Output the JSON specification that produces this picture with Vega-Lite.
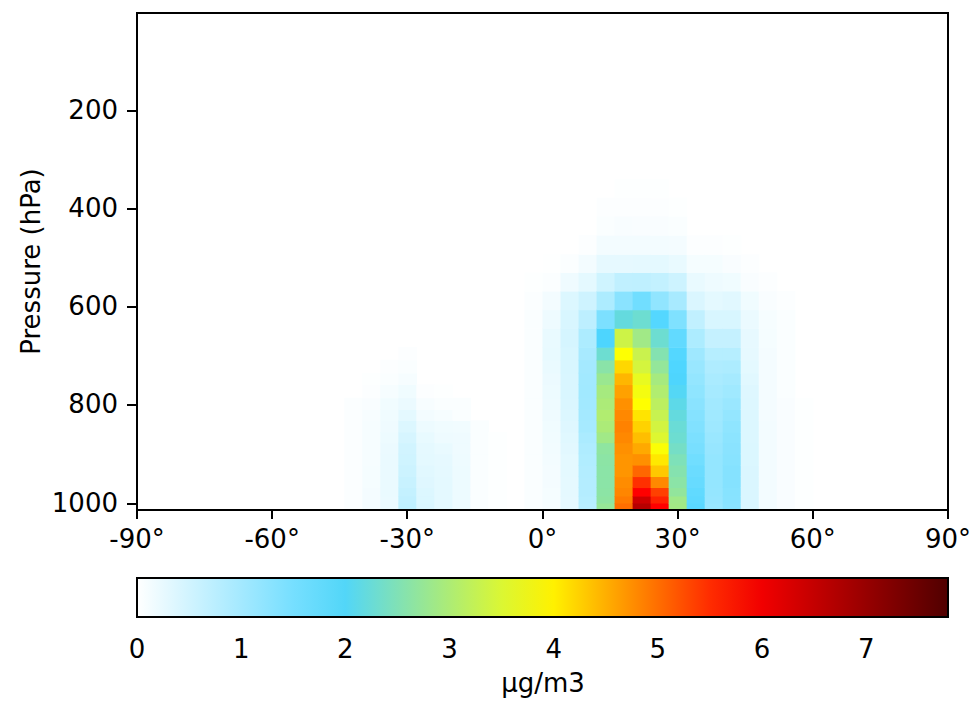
{
  "$schema": "https://vega.github.io/schema/vega-lite/v6.json",
  "width": 811,
  "height": 497,
  "autosize": {"type": "none"},
  "padding": {"left": 137, "top": 13, "right": 25, "bottom": 193},
  "background": "white",
  "config": {
    "font": "DejaVu Sans",
    "view": {"stroke": "black", "strokeWidth": 2},
    "axis": {"labelFontSize": 26, "titleFontSize": 26, "titleFontWeight": "normal", "labelColor": "black", "titleColor": "black", "tickColor": "black", "tickWidth": 2, "grid": false, "domain": true, "domainColor": "black", "domainWidth": 2, "translate": 0}
  },
  "datasets": {
    "levels": [
      {"lev":0,"p_top":999.8,"p_bot":1013},{"lev":1,"p_top":985.6,"p_bot":999.8},{"lev":2,"p_top":968.3,"p_bot":985.6},{"lev":3,"p_top":945.9,"p_bot":968.3},{"lev":4,"p_top":922.5,"p_bot":945.9},{"lev":5,"p_top":899.2,"p_bot":922.5},{"lev":6,"p_top":876.8,"p_bot":899.2},{"lev":7,"p_top":855,"p_bot":876.8},{"lev":8,"p_top":831.5,"p_bot":855},{"lev":9,"p_top":809.1,"p_bot":831.5},{"lev":10,"p_top":785.4,"p_bot":809.1},{"lev":11,"p_top":758.3,"p_bot":785.4},{"lev":12,"p_top":734.6,"p_bot":758.3},{"lev":13,"p_top":708.1,"p_bot":734.6},{"lev":14,"p_top":682.3,"p_bot":708.1},{"lev":15,"p_top":643.7,"p_bot":682.3},{"lev":16,"p_top":605.9,"p_bot":643.7},{"lev":17,"p_top":567.9,"p_bot":605.9},{"lev":18,"p_top":529.9,"p_bot":567.9},{"lev":19,"p_top":493,"p_bot":529.9},{"lev":20,"p_top":454,"p_bot":493},{"lev":21,"p_top":414.8,"p_bot":454},{"lev":22,"p_top":377.4,"p_bot":414.8},{"lev":23,"p_top":340,"p_bot":377.4}
    ],
    "lats": [
      {"lat":-42,"lat_s":-44,"lat_n":-40},{"lat":-38,"lat_s":-40,"lat_n":-36},{"lat":-34,"lat_s":-36,"lat_n":-32},{"lat":-30,"lat_s":-32,"lat_n":-28},{"lat":-26,"lat_s":-28,"lat_n":-24},{"lat":-22,"lat_s":-24,"lat_n":-20},{"lat":-18,"lat_s":-20,"lat_n":-16},{"lat":-14,"lat_s":-16,"lat_n":-12},{"lat":-10,"lat_s":-12,"lat_n":-8},{"lat":-2,"lat_s":-4,"lat_n":0},{"lat":2,"lat_s":0,"lat_n":4},{"lat":6,"lat_s":4,"lat_n":8},{"lat":10,"lat_s":8,"lat_n":12},{"lat":14,"lat_s":12,"lat_n":16},{"lat":18,"lat_s":16,"lat_n":20},{"lat":22,"lat_s":20,"lat_n":24},{"lat":26,"lat_s":24,"lat_n":28},{"lat":30,"lat_s":28,"lat_n":32},{"lat":34,"lat_s":32,"lat_n":36},{"lat":38,"lat_s":36,"lat_n":40},{"lat":42,"lat_s":40,"lat_n":44},{"lat":46,"lat_s":44,"lat_n":48},{"lat":50,"lat_s":48,"lat_n":52},{"lat":54,"lat_s":52,"lat_n":56},{"lat":58,"lat_s":56,"lat_n":60}
    ],
    "conc": [
      {"lat":-42,"lev":0,"c":0.04},{"lat":-42,"lev":1,"c":0.04},{"lat":-42,"lev":2,"c":0.04},{"lat":-42,"lev":3,"c":0.04},{"lat":-42,"lev":4,"c":0.04},{"lat":-42,"lev":5,"c":0.04},{"lat":-42,"lev":6,"c":0.04},{"lat":-42,"lev":7,"c":0.04},{"lat":-42,"lev":8,"c":0.04},{"lat":-42,"lev":9,"c":0.04},{"lat":-42,"lev":10,"c":0.04},
      {"lat":-38,"lev":0,"c":0.12},{"lat":-38,"lev":1,"c":0.12},{"lat":-38,"lev":2,"c":0.12},{"lat":-38,"lev":3,"c":0.11},{"lat":-38,"lev":4,"c":0.11},{"lat":-38,"lev":5,"c":0.1},{"lat":-38,"lev":6,"c":0.1},{"lat":-38,"lev":7,"c":0.1},{"lat":-38,"lev":8,"c":0.1},{"lat":-38,"lev":9,"c":0.09},{"lat":-38,"lev":10,"c":0.07},{"lat":-38,"lev":11,"c":0.03},{"lat":-38,"lev":12,"c":0.02},
      {"lat":-34,"lev":0,"c":0.22},{"lat":-34,"lev":1,"c":0.22},{"lat":-34,"lev":2,"c":0.23},{"lat":-34,"lev":3,"c":0.23},{"lat":-34,"lev":4,"c":0.23},{"lat":-34,"lev":5,"c":0.23},{"lat":-34,"lev":6,"c":0.22},{"lat":-34,"lev":7,"c":0.2},{"lat":-34,"lev":8,"c":0.17},{"lat":-34,"lev":9,"c":0.16},{"lat":-34,"lev":10,"c":0.15},{"lat":-34,"lev":11,"c":0.1},{"lat":-34,"lev":12,"c":0.05},{"lat":-34,"lev":13,"c":0.03},
      {"lat":-30,"lev":0,"c":0.7},{"lat":-30,"lev":1,"c":0.68},{"lat":-30,"lev":2,"c":0.65},{"lat":-30,"lev":3,"c":0.6},{"lat":-30,"lev":4,"c":0.56},{"lat":-30,"lev":5,"c":0.53},{"lat":-30,"lev":6,"c":0.5},{"lat":-30,"lev":7,"c":0.45},{"lat":-30,"lev":8,"c":0.38},{"lat":-30,"lev":9,"c":0.3},{"lat":-30,"lev":10,"c":0.22},{"lat":-30,"lev":11,"c":0.16},{"lat":-30,"lev":12,"c":0.1},{"lat":-30,"lev":13,"c":0.06},{"lat":-30,"lev":14,"c":0.03},
      {"lat":-26,"lev":0,"c":0.4},{"lat":-26,"lev":1,"c":0.39},{"lat":-26,"lev":2,"c":0.38},{"lat":-26,"lev":3,"c":0.35},{"lat":-26,"lev":4,"c":0.33},{"lat":-26,"lev":5,"c":0.3},{"lat":-26,"lev":6,"c":0.28},{"lat":-26,"lev":7,"c":0.25},{"lat":-26,"lev":8,"c":0.2},{"lat":-26,"lev":9,"c":0.13},{"lat":-26,"lev":10,"c":0.09},{"lat":-26,"lev":11,"c":0.03},
      {"lat":-22,"lev":0,"c":0.3},{"lat":-22,"lev":1,"c":0.3},{"lat":-22,"lev":2,"c":0.3},{"lat":-22,"lev":3,"c":0.29},{"lat":-22,"lev":4,"c":0.28},{"lat":-22,"lev":5,"c":0.27},{"lat":-22,"lev":6,"c":0.24},{"lat":-22,"lev":7,"c":0.19},{"lat":-22,"lev":8,"c":0.16},{"lat":-22,"lev":9,"c":0.1},{"lat":-22,"lev":10,"c":0.06},{"lat":-22,"lev":11,"c":0.02},
      {"lat":-18,"lev":0,"c":0.2},{"lat":-18,"lev":1,"c":0.2},{"lat":-18,"lev":2,"c":0.2},{"lat":-18,"lev":3,"c":0.2},{"lat":-18,"lev":4,"c":0.2},{"lat":-18,"lev":5,"c":0.19},{"lat":-18,"lev":6,"c":0.18},{"lat":-18,"lev":7,"c":0.17},{"lat":-18,"lev":8,"c":0.15},{"lat":-18,"lev":9,"c":0.06},{"lat":-18,"lev":10,"c":0.05},
      {"lat":-14,"lev":0,"c":0.06},{"lat":-14,"lev":1,"c":0.06},{"lat":-14,"lev":2,"c":0.06},{"lat":-14,"lev":3,"c":0.06},{"lat":-14,"lev":4,"c":0.06},{"lat":-14,"lev":5,"c":0.06},{"lat":-14,"lev":6,"c":0.06},{"lat":-14,"lev":7,"c":0.06},{"lat":-14,"lev":8,"c":0.06},
      {"lat":-10,"lev":0,"c":0.02},{"lat":-10,"lev":1,"c":0.02},{"lat":-10,"lev":2,"c":0.02},{"lat":-10,"lev":3,"c":0.02},{"lat":-10,"lev":4,"c":0.02},{"lat":-10,"lev":5,"c":0.02},{"lat":-10,"lev":6,"c":0.02},{"lat":-10,"lev":7,"c":0.02},
      {"lat":-2,"lev":0,"c":0.05},{"lat":-2,"lev":1,"c":0.05},{"lat":-2,"lev":2,"c":0.05},{"lat":-2,"lev":3,"c":0.05},{"lat":-2,"lev":4,"c":0.05},{"lat":-2,"lev":5,"c":0.05},{"lat":-2,"lev":6,"c":0.05},{"lat":-2,"lev":7,"c":0.05},{"lat":-2,"lev":8,"c":0.05},{"lat":-2,"lev":9,"c":0.05},{"lat":-2,"lev":10,"c":0.05},{"lat":-2,"lev":11,"c":0.05},{"lat":-2,"lev":12,"c":0.05},{"lat":-2,"lev":13,"c":0.05},{"lat":-2,"lev":14,"c":0.05},{"lat":-2,"lev":15,"c":0.05},{"lat":-2,"lev":16,"c":0.05},{"lat":-2,"lev":17,"c":0.04},{"lat":-2,"lev":18,"c":0.02},
      {"lat":2,"lev":0,"c":0.1},{"lat":2,"lev":1,"c":0.11},{"lat":2,"lev":2,"c":0.11},{"lat":2,"lev":3,"c":0.12},{"lat":2,"lev":4,"c":0.12},{"lat":2,"lev":5,"c":0.13},{"lat":2,"lev":6,"c":0.14},{"lat":2,"lev":7,"c":0.15},{"lat":2,"lev":8,"c":0.16},{"lat":2,"lev":9,"c":0.17},{"lat":2,"lev":10,"c":0.19},{"lat":2,"lev":11,"c":0.2},{"lat":2,"lev":12,"c":0.21},{"lat":2,"lev":13,"c":0.23},{"lat":2,"lev":14,"c":0.25},{"lat":2,"lev":15,"c":0.24},{"lat":2,"lev":16,"c":0.19},{"lat":2,"lev":17,"c":0.13},{"lat":2,"lev":18,"c":0.04},{"lat":2,"lev":19,"c":0.01},
      {"lat":6,"lev":0,"c":0.27},{"lat":6,"lev":1,"c":0.27},{"lat":6,"lev":2,"c":0.28},{"lat":6,"lev":3,"c":0.28},{"lat":6,"lev":4,"c":0.29},{"lat":6,"lev":5,"c":0.3},{"lat":6,"lev":6,"c":0.32},{"lat":6,"lev":7,"c":0.34},{"lat":6,"lev":8,"c":0.36},{"lat":6,"lev":9,"c":0.38},{"lat":6,"lev":10,"c":0.4},{"lat":6,"lev":11,"c":0.41},{"lat":6,"lev":12,"c":0.42},{"lat":6,"lev":13,"c":0.43},{"lat":6,"lev":14,"c":0.44},{"lat":6,"lev":15,"c":0.46},{"lat":6,"lev":16,"c":0.43},{"lat":6,"lev":17,"c":0.38},{"lat":6,"lev":18,"c":0.17},{"lat":6,"lev":19,"c":0.04},
      {"lat":10,"lev":0,"c":0.78},{"lat":10,"lev":1,"c":0.8},{"lat":10,"lev":2,"c":0.82},{"lat":10,"lev":3,"c":0.82},{"lat":10,"lev":4,"c":0.83},{"lat":10,"lev":5,"c":0.85},{"lat":10,"lev":6,"c":0.88},{"lat":10,"lev":7,"c":0.92},{"lat":10,"lev":8,"c":0.97},{"lat":10,"lev":9,"c":1.0},{"lat":10,"lev":10,"c":1.02},{"lat":10,"lev":11,"c":1.03},{"lat":10,"lev":12,"c":1.02},{"lat":10,"lev":13,"c":1.0},{"lat":10,"lev":14,"c":0.95},{"lat":10,"lev":15,"c":0.9},{"lat":10,"lev":16,"c":0.72},{"lat":10,"lev":17,"c":0.54},{"lat":10,"lev":18,"c":0.3},{"lat":10,"lev":19,"c":0.13},{"lat":10,"lev":20,"c":0.03},
      {"lat":14,"lev":0,"c":2.74},{"lat":14,"lev":1,"c":2.66},{"lat":14,"lev":2,"c":2.63},{"lat":14,"lev":3,"c":2.62},{"lat":14,"lev":4,"c":2.62},{"lat":14,"lev":5,"c":2.63},{"lat":14,"lev":6,"c":2.67},{"lat":14,"lev":7,"c":2.86},{"lat":14,"lev":8,"c":2.98},{"lat":14,"lev":9,"c":3.04},{"lat":14,"lev":10,"c":2.98},{"lat":14,"lev":11,"c":2.92},{"lat":14,"lev":12,"c":2.79},{"lat":14,"lev":13,"c":2.61},{"lat":14,"lev":14,"c":2.3},{"lat":14,"lev":15,"c":1.95},{"lat":14,"lev":16,"c":1.43},{"lat":14,"lev":17,"c":0.9},{"lat":14,"lev":18,"c":0.52},{"lat":14,"lev":19,"c":0.27},{"lat":14,"lev":20,"c":0.13},{"lat":14,"lev":21,"c":0.06},{"lat":14,"lev":22,"c":0.03},
      {"lat":18,"lev":0,"c":5.0},{"lat":18,"lev":1,"c":4.9},{"lat":18,"lev":2,"c":4.82},{"lat":18,"lev":3,"c":4.77},{"lat":18,"lev":4,"c":4.7},{"lat":18,"lev":5,"c":4.7},{"lat":18,"lev":6,"c":4.74},{"lat":18,"lev":7,"c":4.8},{"lat":18,"lev":8,"c":4.85},{"lat":18,"lev":9,"c":4.8},{"lat":18,"lev":10,"c":4.74},{"lat":18,"lev":11,"c":4.61},{"lat":18,"lev":12,"c":4.45},{"lat":18,"lev":13,"c":4.2},{"lat":18,"lev":14,"c":3.88},{"lat":18,"lev":15,"c":3.35},{"lat":18,"lev":16,"c":2.2},{"lat":18,"lev":17,"c":1.28},{"lat":18,"lev":18,"c":0.69},{"lat":18,"lev":19,"c":0.27},{"lat":18,"lev":20,"c":0.13},{"lat":18,"lev":21,"c":0.08},{"lat":18,"lev":22,"c":0.03},{"lat":18,"lev":23,"c":0.02},
      {"lat":22,"lev":0,"c":6.65},{"lat":22,"lev":1,"c":6.4},{"lat":22,"lev":2,"c":5.84},{"lat":22,"lev":3,"c":5.47},{"lat":22,"lev":4,"c":5.05},{"lat":22,"lev":5,"c":4.74},{"lat":22,"lev":6,"c":4.55},{"lat":22,"lev":7,"c":4.39},{"lat":22,"lev":8,"c":4.24},{"lat":22,"lev":9,"c":4.1},{"lat":22,"lev":10,"c":3.89},{"lat":22,"lev":11,"c":3.77},{"lat":22,"lev":12,"c":3.64},{"lat":22,"lev":13,"c":3.42},{"lat":22,"lev":14,"c":3.3},{"lat":22,"lev":15,"c":2.86},{"lat":22,"lev":16,"c":2.3},{"lat":22,"lev":17,"c":1.55},{"lat":22,"lev":18,"c":0.7},{"lat":22,"lev":19,"c":0.28},{"lat":22,"lev":20,"c":0.13},{"lat":22,"lev":21,"c":0.07},{"lat":22,"lev":22,"c":0.03},{"lat":22,"lev":23,"c":0.02},
      {"lat":26,"lev":0,"c":5.84},{"lat":26,"lev":1,"c":5.59},{"lat":26,"lev":2,"c":5.35},{"lat":26,"lev":3,"c":4.8},{"lat":26,"lev":4,"c":4.31},{"lat":26,"lev":5,"c":4.07},{"lat":26,"lev":6,"c":3.85},{"lat":26,"lev":7,"c":3.52},{"lat":26,"lev":8,"c":3.4},{"lat":26,"lev":9,"c":3.28},{"lat":26,"lev":10,"c":3.16},{"lat":26,"lev":11,"c":3.04},{"lat":26,"lev":12,"c":2.92},{"lat":26,"lev":13,"c":2.72},{"lat":26,"lev":14,"c":2.55},{"lat":26,"lev":15,"c":2.3},{"lat":26,"lev":16,"c":1.87},{"lat":26,"lev":17,"c":1.2},{"lat":26,"lev":18,"c":0.66},{"lat":26,"lev":19,"c":0.3},{"lat":26,"lev":20,"c":0.13},{"lat":26,"lev":21,"c":0.07},{"lat":26,"lev":22,"c":0.03},{"lat":26,"lev":23,"c":0.02},
      {"lat":30,"lev":0,"c":2.88},{"lat":30,"lev":1,"c":2.85},{"lat":30,"lev":2,"c":2.7},{"lat":30,"lev":3,"c":2.62},{"lat":30,"lev":4,"c":2.56},{"lat":30,"lev":5,"c":2.48},{"lat":30,"lev":6,"c":2.38},{"lat":30,"lev":7,"c":2.3},{"lat":30,"lev":8,"c":2.26},{"lat":30,"lev":9,"c":2.2},{"lat":30,"lev":10,"c":2.12},{"lat":30,"lev":11,"c":2.02},{"lat":30,"lev":12,"c":1.96},{"lat":30,"lev":13,"c":1.92},{"lat":30,"lev":14,"c":1.87},{"lat":30,"lev":15,"c":1.72},{"lat":30,"lev":16,"c":1.4},{"lat":30,"lev":17,"c":0.95},{"lat":30,"lev":18,"c":0.55},{"lat":30,"lev":19,"c":0.24},{"lat":30,"lev":20,"c":0.12},{"lat":30,"lev":21,"c":0.05},{"lat":30,"lev":22,"c":0.02},
      {"lat":34,"lev":0,"c":1.8},{"lat":34,"lev":1,"c":1.76},{"lat":34,"lev":2,"c":1.73},{"lat":34,"lev":3,"c":1.66},{"lat":34,"lev":4,"c":1.62},{"lat":34,"lev":5,"c":1.55},{"lat":34,"lev":6,"c":1.48},{"lat":34,"lev":7,"c":1.43},{"lat":34,"lev":8,"c":1.38},{"lat":34,"lev":9,"c":1.33},{"lat":34,"lev":10,"c":1.28},{"lat":34,"lev":11,"c":1.22},{"lat":34,"lev":12,"c":1.17},{"lat":34,"lev":13,"c":1.12},{"lat":34,"lev":14,"c":1.05},{"lat":34,"lev":15,"c":0.9},{"lat":34,"lev":16,"c":0.68},{"lat":34,"lev":17,"c":0.4},{"lat":34,"lev":18,"c":0.24},{"lat":34,"lev":19,"c":0.11},{"lat":34,"lev":20,"c":0.03},
      {"lat":38,"lev":0,"c":1.12},{"lat":38,"lev":1,"c":1.14},{"lat":38,"lev":2,"c":1.16},{"lat":38,"lev":3,"c":1.17},{"lat":38,"lev":4,"c":1.17},{"lat":38,"lev":5,"c":1.17},{"lat":38,"lev":6,"c":1.14},{"lat":38,"lev":7,"c":1.1},{"lat":38,"lev":8,"c":1.06},{"lat":38,"lev":9,"c":1.04},{"lat":38,"lev":10,"c":1.02},{"lat":38,"lev":11,"c":0.97},{"lat":38,"lev":12,"c":0.93},{"lat":38,"lev":13,"c":0.87},{"lat":38,"lev":14,"c":0.8},{"lat":38,"lev":15,"c":0.63},{"lat":38,"lev":16,"c":0.43},{"lat":38,"lev":17,"c":0.3},{"lat":38,"lev":18,"c":0.19},{"lat":38,"lev":19,"c":0.11},{"lat":38,"lev":20,"c":0.03},
      {"lat":42,"lev":0,"c":1.28},{"lat":42,"lev":1,"c":1.3},{"lat":42,"lev":2,"c":1.31},{"lat":42,"lev":3,"c":1.33},{"lat":42,"lev":4,"c":1.33},{"lat":42,"lev":5,"c":1.3},{"lat":42,"lev":6,"c":1.28},{"lat":42,"lev":7,"c":1.26},{"lat":42,"lev":8,"c":1.22},{"lat":42,"lev":9,"c":1.17},{"lat":42,"lev":10,"c":1.1},{"lat":42,"lev":11,"c":1.04},{"lat":42,"lev":12,"c":0.97},{"lat":42,"lev":13,"c":0.9},{"lat":42,"lev":14,"c":0.8},{"lat":42,"lev":15,"c":0.63},{"lat":42,"lev":16,"c":0.43},{"lat":42,"lev":17,"c":0.33},{"lat":42,"lev":18,"c":0.16},{"lat":42,"lev":19,"c":0.07},{"lat":42,"lev":20,"c":0.02},
      {"lat":46,"lev":0,"c":0.4},{"lat":46,"lev":1,"c":0.4},{"lat":46,"lev":2,"c":0.4},{"lat":46,"lev":3,"c":0.4},{"lat":46,"lev":4,"c":0.4},{"lat":46,"lev":5,"c":0.39},{"lat":46,"lev":6,"c":0.39},{"lat":46,"lev":7,"c":0.38},{"lat":46,"lev":8,"c":0.38},{"lat":46,"lev":9,"c":0.38},{"lat":46,"lev":10,"c":0.37},{"lat":46,"lev":11,"c":0.36},{"lat":46,"lev":12,"c":0.33},{"lat":46,"lev":13,"c":0.3},{"lat":46,"lev":14,"c":0.27},{"lat":46,"lev":15,"c":0.26},{"lat":46,"lev":16,"c":0.22},{"lat":46,"lev":17,"c":0.16},{"lat":46,"lev":18,"c":0.07},{"lat":46,"lev":19,"c":0.03},
      {"lat":50,"lev":0,"c":0.13},{"lat":50,"lev":1,"c":0.13},{"lat":50,"lev":2,"c":0.13},{"lat":50,"lev":3,"c":0.13},{"lat":50,"lev":4,"c":0.13},{"lat":50,"lev":5,"c":0.13},{"lat":50,"lev":6,"c":0.13},{"lat":50,"lev":7,"c":0.13},{"lat":50,"lev":8,"c":0.13},{"lat":50,"lev":9,"c":0.12},{"lat":50,"lev":10,"c":0.12},{"lat":50,"lev":11,"c":0.12},{"lat":50,"lev":12,"c":0.12},{"lat":50,"lev":13,"c":0.12},{"lat":50,"lev":14,"c":0.12},{"lat":50,"lev":15,"c":0.11},{"lat":50,"lev":16,"c":0.1},{"lat":50,"lev":17,"c":0.07},{"lat":50,"lev":18,"c":0.03},
      {"lat":54,"lev":0,"c":0.07},{"lat":54,"lev":1,"c":0.07},{"lat":54,"lev":2,"c":0.07},{"lat":54,"lev":3,"c":0.07},{"lat":54,"lev":4,"c":0.07},{"lat":54,"lev":5,"c":0.07},{"lat":54,"lev":6,"c":0.07},{"lat":54,"lev":7,"c":0.07},{"lat":54,"lev":8,"c":0.07},{"lat":54,"lev":9,"c":0.07},{"lat":54,"lev":10,"c":0.07},{"lat":54,"lev":11,"c":0.05},{"lat":54,"lev":12,"c":0.05},{"lat":54,"lev":13,"c":0.05},{"lat":54,"lev":14,"c":0.05},{"lat":54,"lev":15,"c":0.05},{"lat":54,"lev":16,"c":0.05},{"lat":54,"lev":17,"c":0.03},
      {"lat":58,"lev":0,"c":0.02},{"lat":58,"lev":1,"c":0.02},{"lat":58,"lev":2,"c":0.02},{"lat":58,"lev":3,"c":0.02},{"lat":58,"lev":4,"c":0.02},{"lat":58,"lev":5,"c":0.02},{"lat":58,"lev":6,"c":0.02},{"lat":58,"lev":7,"c":0.02},{"lat":58,"lev":8,"c":0.02},{"lat":58,"lev":9,"c":0.02},{"lat":58,"lev":10,"c":0.02}
    ]
  },
  "data": {"name": "conc"},
  "transform": [
    {"lookup": "lev", "from": {"data": {"name": "levels"}, "key": "lev", "fields": ["p_top", "p_bot"]}},
    {"lookup": "lat", "from": {"data": {"name": "lats"}, "key": "lat", "fields": ["lat_s", "lat_n"]}}
  ],
  "mark": {"type": "rect", "clip": true, "x2Offset": 0.6, "yOffset": -0.6},
  "encoding": {
    "x": {
      "field": "lat_s", "type": "quantitative",
      "scale": {"domain": [-90, 90], "nice": false, "zero": false},
      "axis": {"values": [-90, -60, -30, 0, 30, 60, 90], "labelExpr": "datum.value + '°'", "title": null, "tickSize": 9, "labelPadding": 8, "labelFlush": false, "labelOverlap": false, "zindex": 2}
    },
    "x2": {"field": "lat_n"},
    "y": {
      "field": "p_top", "type": "quantitative",
      "scale": {"domain": [0, 1013], "reverse": true, "nice": false, "zero": false},
      "axis": {"values": [200, 400, 600, 800, 1000], "format": "d", "title": "Pressure (hPa)", "tickSize": 10, "labelPadding": 9, "titlePadding": 7, "zindex": 2}
    },
    "y2": {"field": "p_bot"},
    "color": {
      "field": "c", "type": "quantitative",
      "scale": {"type": "linear", "domain": [0, 1.946, 3.893, 5.839, 7.785], "range": ["#ffffff", "#4dd5ff", "#ffff00", "#ff0000", "#500000"], "interpolate": "rgb"},
      "legend": {
        "type": "gradient",
        "orient": "none", "legendX": 0, "legendY": 565, "direction": "horizontal",
        "gradientLength": 811, "gradientThickness": 39,
        "gradientStrokeColor": "black", "gradientStrokeWidth": 2,
        "title": "μg/m3", "titleOrient": "bottom", "titleAnchor": "middle",
        "titleFontSize": 26, "titleFontWeight": "normal", "titleColor": "black", "titlePadding": 8,
        "values": [0, 1, 2, 3, 4, 5, 6, 7], "format": "d", "labelAlign": "center", "labelOverlap": false,
        "labelFontSize": 26, "labelColor": "black", "labelOffset": 20,
        "encode": {"labels": {"update": {"align": {"value": "center"}, "dx": {"value": 0}}}}
      }
    }
  }
}
